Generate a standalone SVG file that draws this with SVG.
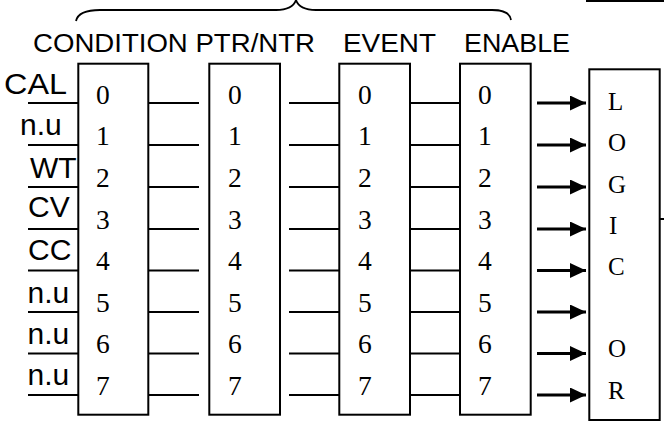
<svg xmlns="http://www.w3.org/2000/svg" width="664" height="427" viewBox="0 0 664 427">
  <defs>
    <marker id="arrow" markerUnits="userSpaceOnUse" markerWidth="16" markerHeight="15" refX="16" refY="7.5" orient="auto">
      <path d="M0,0 L16,7.5 L0,15 Z" fill="#000"/>
    </marker>
  </defs>
  <style>
    .box { fill: #fff; stroke: #000; stroke-width: 2; }
    .wire { stroke: #000; stroke-width: 2; fill: none; }
    .arr { stroke: #000; stroke-width: 3; fill: none; marker-end: url(#arrow); }
    .head { font-family: "Liberation Sans", Arial, sans-serif; font-size: 26px; fill: #000; }
    .lbl { font-family: "Liberation Sans", Arial, sans-serif; font-size: 30px; fill: #000; }
    .bit { font-family: "Liberation Serif", "Times New Roman", serif; font-size: 27.5px; fill: #000; }
    .logic { font-family: "Liberation Serif", "Times New Roman", serif; font-size: 25px; fill: #000; }
  </style>

  <!-- brace over the four registers -->
  <path class="wire" style="stroke-width:1.8" d="M76,21 C78,12 88,10 100,10 L276,10 C288,10 294,6 296,0 C298,6 304,10 316,10 L492,10 C504,10 510,13 511,20"/>

  <!-- register titles -->
  <g id="titles">
    <text class="head" x="33" y="52" textLength="282" lengthAdjust="spacingAndGlyphs">CONDITION PTR/NTR</text>
    <text class="head" x="343" y="52" textLength="93" lengthAdjust="spacingAndGlyphs">EVENT</text>
    <text class="head" x="464" y="52" textLength="106" lengthAdjust="spacingAndGlyphs">ENABLE</text>
  </g>

  <!-- input condition labels -->
  <g id="inputs">
    <text class="lbl" x="4" y="94" textLength="63" lengthAdjust="spacingAndGlyphs">CAL</text>
    <text class="lbl" x="20" y="135">n.u</text>
    <text class="lbl" x="30" y="178">WT</text>
    <text class="lbl" x="28" y="217">CV</text>
    <text class="lbl" x="28" y="260">CC</text>
    <text class="lbl" x="27.5" y="302.5">n.u</text>
    <text class="lbl" x="27.5" y="343.5">n.u</text>
    <text class="lbl" x="27.5" y="385">n.u</text>
  </g>

  <!-- connectors -->
  <g id="connectors">
    <path class="wire" d="M28,103H78 M28,145H78 M28,187H78 M28,229H78 M28,270.5H78 M28,312H78 M28,353.5H78 M28,395H78"/>
    <path class="wire" d="M149,103H199 M149,145H199 M149,187H199 M149,229H199 M149,270.5H199 M149,312H199 M149,353.5H199 M149,395H199"/>
    <path class="wire" d="M289,103H339 M289,145H339 M289,187H339 M289,229H339 M289,270.5H339 M289,312H339 M289,353.5H339 M289,395H339"/>
    <path class="wire" d="M411,103H460 M411,145H460 M411,187H460 M411,229H460 M411,270.5H460 M411,312H460 M411,353.5H460 M411,395H460"/>
    <line class="arr" x1="537" y1="103" x2="586" y2="103"/>
    <line class="arr" x1="537" y1="145" x2="586" y2="145"/>
    <line class="arr" x1="537" y1="187" x2="586" y2="187"/>
    <line class="arr" x1="537" y1="229" x2="586" y2="229"/>
    <line class="arr" x1="537" y1="270.5" x2="586" y2="270.5"/>
    <line class="arr" x1="537" y1="312" x2="586" y2="312"/>
    <line class="arr" x1="537" y1="353.5" x2="586" y2="353.5"/>
    <line class="arr" x1="537" y1="395" x2="586" y2="395"/>
    <path class="wire" d="M660,219H664 M586,1H664"/>
  </g>

  <!-- CONDITION register -->
  <g id="condition">
    <rect class="box" x="78.3" y="63.7" width="70" height="351"/>
    <text class="bit" x="96" y="104">0</text>
    <text class="bit" x="96" y="145">1</text>
    <text class="bit" x="96" y="187">2</text>
    <text class="bit" x="96" y="228.5">3</text>
    <text class="bit" x="96" y="270">4</text>
    <text class="bit" x="96" y="311.5">5</text>
    <text class="bit" x="96" y="353">6</text>
    <text class="bit" x="96" y="394.5">7</text>
  </g>

  <!-- PTR/NTR register -->
  <g id="ptr-ntr">
    <rect class="box" x="209.3" y="63.7" width="70.7" height="351"/>
    <text class="bit" x="228" y="104">0</text>
    <text class="bit" x="228" y="145">1</text>
    <text class="bit" x="228" y="187">2</text>
    <text class="bit" x="228" y="228.5">3</text>
    <text class="bit" x="228" y="270">4</text>
    <text class="bit" x="228" y="311.5">5</text>
    <text class="bit" x="228" y="353">6</text>
    <text class="bit" x="228" y="394.5">7</text>
  </g>

  <!-- EVENT register -->
  <g id="event">
    <rect class="box" x="339.3" y="63.7" width="70.7" height="351"/>
    <text class="bit" x="358" y="104">0</text>
    <text class="bit" x="358" y="145">1</text>
    <text class="bit" x="358" y="187">2</text>
    <text class="bit" x="358" y="228.5">3</text>
    <text class="bit" x="358" y="270">4</text>
    <text class="bit" x="358" y="311.5">5</text>
    <text class="bit" x="358" y="353">6</text>
    <text class="bit" x="358" y="394.5">7</text>
  </g>

  <!-- ENABLE register -->
  <g id="enable">
    <rect class="box" x="460" y="63.7" width="70.7" height="351"/>
    <text class="bit" x="478" y="104">0</text>
    <text class="bit" x="478" y="145">1</text>
    <text class="bit" x="478" y="187">2</text>
    <text class="bit" x="478" y="228.5">3</text>
    <text class="bit" x="478" y="270">4</text>
    <text class="bit" x="478" y="311.5">5</text>
    <text class="bit" x="478" y="353">6</text>
    <text class="bit" x="478" y="394.5">7</text>
  </g>

  <!-- logical OR -->
  <g id="logic-or">
    <rect class="box" x="589.3" y="69.3" width="70.4" height="350.7"/>
    <text class="logic" x="608" y="110">L</text>
    <text class="logic" x="608" y="150.5">O</text>
    <text class="logic" x="608" y="192.5">G</text>
    <text class="logic" x="609" y="234.3">I</text>
    <text class="logic" x="608" y="275">C</text>
    <text class="logic" x="608" y="356.5">O</text>
    <text class="logic" x="608" y="399">R</text>
  </g>
</svg>
